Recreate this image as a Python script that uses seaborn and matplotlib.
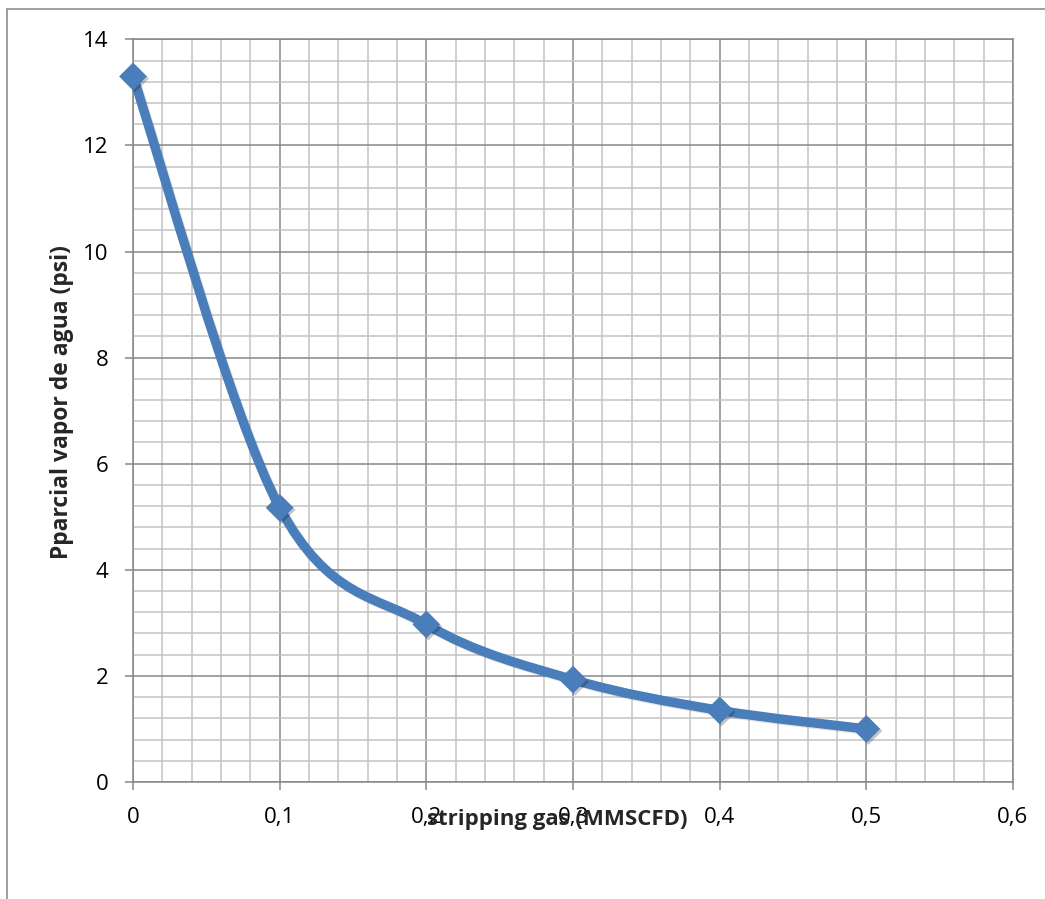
import numpy as np
import matplotlib
matplotlib.use("Agg")
import matplotlib.pyplot as plt
import matplotlib.ticker as mticker
import matplotlib.patheffects as pe
from matplotlib.path import Path
from matplotlib.patches import PathPatch
from matplotlib.lines import Line2D
import seaborn as sns

# Stripping gas rate (MMSCFD) and water vapour partial pressure (psi)
gas_rate = [0.0, 0.1, 0.2, 0.3, 0.4, 0.5]
p_vapor = [13.3, 5.17, 2.97, 1.93, 1.35, 1.0]

x_ticks = [0, 0.1, 0.2, 0.3, 0.4, 0.5, 0.6]
y_ticks = [0, 2, 4, 6, 8, 10, 12, 14]

x_label = "stripping gas (MMSCFD)"
y_label = "Pparcial vapor de agua (psi)"

sns.set_style("white")
plt.rcParams["font.family"] = ["Open Sans", "DejaVu Sans"]

LINE_BLUE = "#4a7ebb"
MAJOR_GRID = "#878787"
MINOR_GRID = "#c4c4c4"

W, H = 1045, 899
fig = plt.figure(figsize=(W / 100, H / 100), dpi=100)
left, right, top, bottom = 133, 1013, 39.3, 782
ax = fig.add_axes([left / W, 1 - bottom / H, (right - left) / W, (bottom - top) / H])

ax.set_xlim(0, 0.6)
ax.set_ylim(0, 14)
ax.xaxis.set_major_locator(mticker.FixedLocator(x_ticks))
ax.yaxis.set_major_locator(mticker.FixedLocator(y_ticks))
ax.xaxis.set_minor_locator(mticker.MultipleLocator(0.02))
ax.yaxis.set_minor_locator(mticker.MultipleLocator(0.4))

comma = mticker.FuncFormatter(lambda v, _: f"{v:g}".replace(".", ","))
ax.xaxis.set_major_formatter(comma)
ax.yaxis.set_major_formatter(comma)

ax.set_axisbelow(True)
ax.grid(which="minor", color=MINOR_GRID, lw=1.1)
ax.grid(which="major", color=MAJOR_GRID, lw=1.1)
for s in ax.spines.values():
    s.set_visible(True)
    s.set_color(MAJOR_GRID)
    s.set_linewidth(1.1)

ax.tick_params(which="major", direction="out", length=5.8, width=1.1,
               color=MAJOR_GRID, labelsize=16, labelcolor="black", pad=12,
               bottom=True, left=True, top=False, right=False)
ax.tick_params(which="minor", length=0)

# Smoothed curve: cubic Bezier segments with Catmull-Rom style control points
xs = np.asarray(gas_rate, float)
ys = np.asarray(p_vapor, float)
pts = np.column_stack([xs, ys])
n = len(pts)
verts = [pts[0]]
codes = [Path.MOVETO]
for i in range(n - 1):
    p_prev = pts[i - 1] if i > 0 else pts[i]
    p0, p1 = pts[i], pts[i + 1]
    p_next = pts[i + 2] if i + 2 < n else pts[i + 1]
    c1 = p0 + (p1 - p_prev) / 6.0
    c2 = p1 - (p_next - p0) / 6.0
    verts += [c1, c2, p1]
    codes += [Path.CURVE4] * 3

curve = PathPatch(Path(verts, codes), transform=ax.transData, facecolor="none",
                  edgecolor=LINE_BLUE, lw=6.8, capstyle="round", joinstyle="round",
                  zorder=3, clip_on=False)
curve.set_path_effects([
    pe.SimpleLineShadow(offset=(1.0, -1.0), shadow_color="black", alpha=0.1),
    pe.Normal(),
])
ax.add_patch(curve)

sns.scatterplot(x=gas_rate, y=p_vapor, marker="D", s=200, color=LINE_BLUE,
                edgecolor="none", linewidth=0, ax=ax, zorder=4, clip_on=False,
                legend=False)
for coll in ax.collections:
    coll.set_path_effects([
        pe.SimplePatchShadow(offset=(1.5, -1.5), alpha=0.22, shadow_rgbFace="black"),
        pe.Normal(),
    ])

ax.set_xlabel(x_label, fontsize=16, fontweight="bold", va="center")
ax.xaxis.set_label_coords((557 - left) / (right - left), -(820 - bottom) / (bottom - top))
ax.set_ylabel(y_label, fontsize=16.5, fontweight="bold", va="center")
ax.yaxis.set_label_coords(-(left - 62) / (right - left), (bottom - 402) / (bottom - top))

# Chart frame
border = dict(color="#8f8f8f", lw=1.2, transform=fig.transFigure)
fig.add_artist(Line2D([7 / W, 1.0], [1 - 9 / H, 1 - 9 / H], **border))
fig.add_artist(Line2D([7 / W, 7 / W], [0.0, 1 - 9 / H], **border))

fig.savefig("out.png", dpi=100, facecolor="white")
